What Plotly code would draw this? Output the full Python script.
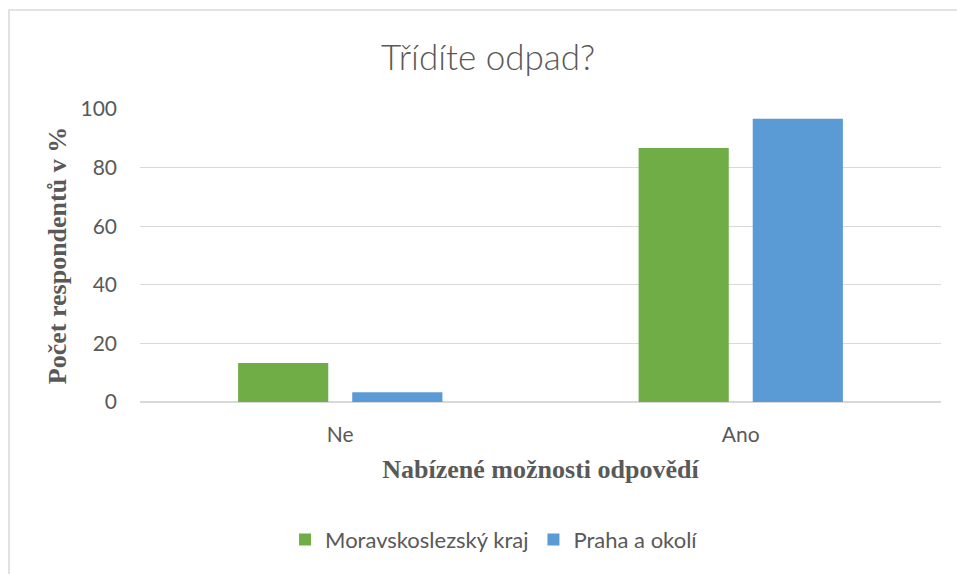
import plotly.graph_objects as go

categories = ["Ne", "Ano"]
moravskoslezsky = [13.3, 86.7]
praha = [3.3, 96.7]
series_names = ["Moravskoslezský kraj", "Praha a okolí"]
y_ticks = [0, 20, 40, 60, 80, 100]

GREEN = "#70ad47"
BLUE = "#5b9bd5"
TXT = "#595959"

fig = go.Figure()
fig.add_trace(go.Bar(x=categories, y=moravskoslezsky, name=series_names[0],
                     marker=dict(color=GREEN, line=dict(width=0))))
fig.add_trace(go.Bar(x=categories, y=praha, name=series_names[1],
                     marker=dict(color=BLUE, line=dict(width=0))))

fig.update_layout(
    width=957, height=574,
    margin=dict(l=140, r=16, t=109, b=172),
    paper_bgcolor="white", plot_bgcolor="white",
    font=dict(family="Lato, Open Sans, sans-serif", size=21, color=TXT),
    barmode="group", bargap=0.43, bargroupgap=0.21,
    title=dict(text="Třídíte odpad?", x=0.51, xanchor="center", y=1 - 58/574, yanchor="middle",
               font=dict(family="Lato", size=35, color=TXT, weight=300)),
    showlegend=True,
    legend=dict(orientation="h", x=0.442, xanchor="center", y=-0.47, yanchor="middle",
                font=dict(size=22, color=TXT), itemwidth=30, traceorder="normal"),
    xaxis=dict(showgrid=False, showline=False, ticks="", tickfont=dict(size=21, color=TXT),
               ticklabelstandoff=18,
               title=dict(text="<b>Nabízené možnosti odpovědí</b>", standoff=14,
                          font=dict(family="Liberation Serif, Times New Roman, serif", size=26, color=TXT))),
    yaxis=dict(range=[0, 100], tickvals=y_ticks, showgrid=True, gridcolor="#d9d9d9", gridwidth=1,
               zeroline=True, zerolinecolor="#d9d9d9", zerolinewidth=1.5, showline=False, ticks="",
               ticklabelstandoff=22, tickfont=dict(size=21, color=TXT),
               title=dict(text="<b>Počet respondentů v %</b>", standoff=6,
                          font=dict(family="Liberation Serif, Times New Roman, serif", size=26, color=TXT))),
    shapes=[dict(type="rect", xref="paper", yref="paper",
                 x0=(9 - 140) / 801, x1=1.2, y0=-1.0, y1=(402 - 10) / 293,
                 line=dict(color="#d9d9d9", width=1.5), fillcolor="rgba(0,0,0,0)", layer="below")],
)

fig.write_html("out.html", config={"displayModeBar": False},
               post_script="document.body.style.margin='0';document.body.style.overflow='hidden';")
